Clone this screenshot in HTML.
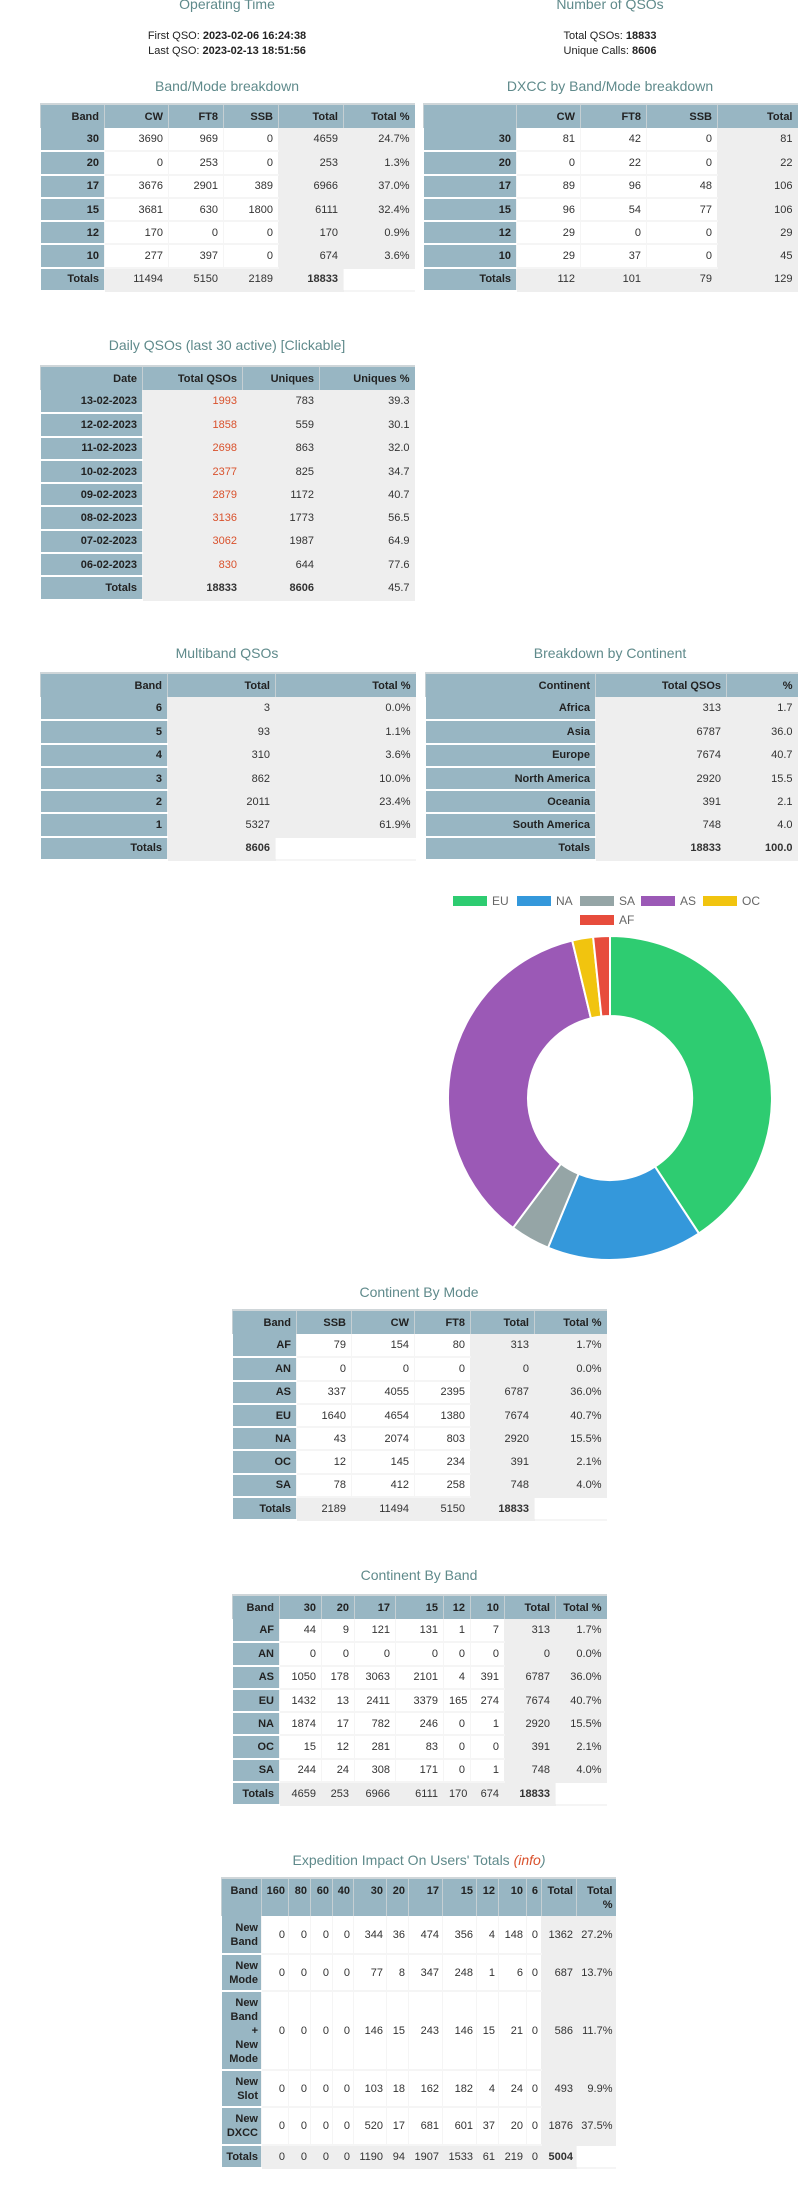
<!DOCTYPE html>
<html><head><meta charset="utf-8">
<style>
html,body{margin:0;padding:0;background:#fff;}
body{width:810px;height:2202px;position:relative;overflow:hidden;font-family:"Liberation Sans",Arial,sans-serif;}
.t{position:absolute;color:#5f8a8b;font-size:14px;text-align:center;white-space:nowrap;transform:translateX(-50%);line-height:16px;}
.i{position:absolute;font-size:11px;color:#222;text-align:center;transform:translateX(-50%);line-height:15px;white-space:nowrap;}
table{position:absolute;border-collapse:collapse;table-layout:fixed;font-size:11px;color:#333;}
td,th{padding:0 5px;text-align:right;overflow:hidden;white-space:nowrap;box-sizing:border-box;}
th{background:#98b6c3;color:#222;font-weight:bold;border-left:1px solid #c5cfd3;border-top:2px solid #cfd6d9;}
td{border-bottom:2px solid #f5f5f5;border-left:1px solid #f5f5f5;}
td.b{background:#98b6c3;color:#222;font-weight:bold;border-bottom:2px solid #fff;border-left:none;}
td.g{background:#eeeeee;border-color:#eeeeee;}
td.w{background:#fff;}
td.r{color:#d9512c;}
tr.h{height:24px;}
tr.d{height:23.3px;}
.ex td{white-space:nowrap;line-height:14px;padding:0 3px;}
.ex th{vertical-align:top;padding:5px 3px 0;white-space:normal;line-height:14px;}
</style></head><body>

<div class="t" style="left:227px;top:-4px;">Operating Time</div>
<div class="i" style="left:227px;top:29px;">First QSO: <b>2023-02-06 16:24:38</b><br>Last QSO: <b>2023-02-13 18:51:56</b></div>
<div class="t" style="left:610px;top:-4px;">Number of QSOs</div>
<div class="i" style="left:610px;top:29px;">Total QSOs: <b>18833</b><br>Unique Calls: <b>8606</b></div>

<div class="t" style="left:227px;top:78px;">Band/Mode breakdown</div>
<table style="left:40px;top:103px;width:374px;">
<colgroup><col style="width:64px"><col style="width:64px"><col style="width:55px"><col style="width:55px"><col style="width:65px"><col style="width:71px"></colgroup>
<tr class="h"><th>Band</th><th>CW</th><th>FT8</th><th>SSB</th><th>Total</th><th>Total %</th></tr>
<tr class="d"><td class="b">30</td><td>3690</td><td>969</td><td>0</td><td class="g">4659</td><td class="g">24.7%</td></tr>
<tr class="d"><td class="b">20</td><td>0</td><td>253</td><td>0</td><td class="g">253</td><td class="g">1.3%</td></tr>
<tr class="d"><td class="b">17</td><td>3676</td><td>2901</td><td>389</td><td class="g">6966</td><td class="g">37.0%</td></tr>
<tr class="d"><td class="b">15</td><td>3681</td><td>630</td><td>1800</td><td class="g">6111</td><td class="g">32.4%</td></tr>
<tr class="d"><td class="b">12</td><td>170</td><td>0</td><td>0</td><td class="g">170</td><td class="g">0.9%</td></tr>
<tr class="d"><td class="b">10</td><td>277</td><td>397</td><td>0</td><td class="g">674</td><td class="g">3.6%</td></tr>
<tr class="d"><td class="b">Totals</td><td class="g">11494</td><td class="g">5150</td><td class="g">2189</td><td class="g"><b>18833</b></td><td class="w"></td></tr>
</table>

<div class="t" style="left:610px;top:78px;">DXCC by Band/Mode breakdown</div>
<table style="left:423px;top:103px;width:374px;">
<colgroup><col style="width:93px"><col style="width:64px"><col style="width:66px"><col style="width:71px"><col style="width:80px"></colgroup>
<tr class="h"><th></th><th>CW</th><th>FT8</th><th>SSB</th><th>Total</th></tr>
<tr class="d"><td class="b">30</td><td>81</td><td>42</td><td>0</td><td class="g">81</td></tr>
<tr class="d"><td class="b">20</td><td>0</td><td>22</td><td>0</td><td class="g">22</td></tr>
<tr class="d"><td class="b">17</td><td>89</td><td>96</td><td>48</td><td class="g">106</td></tr>
<tr class="d"><td class="b">15</td><td>96</td><td>54</td><td>77</td><td class="g">106</td></tr>
<tr class="d"><td class="b">12</td><td>29</td><td>0</td><td>0</td><td class="g">29</td></tr>
<tr class="d"><td class="b">10</td><td>29</td><td>37</td><td>0</td><td class="g">45</td></tr>
<tr class="d"><td class="b">Totals</td><td class="g">112</td><td class="g">101</td><td class="g">79</td><td class="g">129</td></tr>
</table>

<div class="t" style="left:227px;top:337px;">Daily QSOs (last 30 active) [Clickable]</div>
<table style="left:40px;top:365px;width:374px;">
<colgroup><col style="width:102px"><col style="width:100px"><col style="width:77px"><col style="width:95px"></colgroup>
<tr class="h"><th>Date</th><th>Total QSOs</th><th>Uniques</th><th>Uniques %</th></tr>
<tr class="d"><td class="b">13-02-2023</td><td class="g r">1993</td><td class="g">783</td><td class="g">39.3</td></tr>
<tr class="d"><td class="b">12-02-2023</td><td class="g r">1858</td><td class="g">559</td><td class="g">30.1</td></tr>
<tr class="d"><td class="b">11-02-2023</td><td class="g r">2698</td><td class="g">863</td><td class="g">32.0</td></tr>
<tr class="d"><td class="b">10-02-2023</td><td class="g r">2377</td><td class="g">825</td><td class="g">34.7</td></tr>
<tr class="d"><td class="b">09-02-2023</td><td class="g r">2879</td><td class="g">1172</td><td class="g">40.7</td></tr>
<tr class="d"><td class="b">08-02-2023</td><td class="g r">3136</td><td class="g">1773</td><td class="g">56.5</td></tr>
<tr class="d"><td class="b">07-02-2023</td><td class="g r">3062</td><td class="g">1987</td><td class="g">64.9</td></tr>
<tr class="d"><td class="b">06-02-2023</td><td class="g r">830</td><td class="g">644</td><td class="g">77.6</td></tr>
<tr class="d"><td class="b">Totals</td><td class="g"><b>18833</b></td><td class="g"><b>8606</b></td><td class="g">45.7</td></tr>
</table>

<div class="t" style="left:227px;top:645px;">Multiband QSOs</div>
<table style="left:40px;top:672px;width:375px;">
<colgroup><col style="width:127px"><col style="width:108px"><col style="width:140px"></colgroup>
<tr class="h"><th>Band</th><th>Total</th><th>Total %</th></tr>
<tr class="d"><td class="b">6</td><td class="g">3</td><td class="g">0.0%</td></tr>
<tr class="d"><td class="b">5</td><td class="g">93</td><td class="g">1.1%</td></tr>
<tr class="d"><td class="b">4</td><td class="g">310</td><td class="g">3.6%</td></tr>
<tr class="d"><td class="b">3</td><td class="g">862</td><td class="g">10.0%</td></tr>
<tr class="d"><td class="b">2</td><td class="g">2011</td><td class="g">23.4%</td></tr>
<tr class="d"><td class="b">1</td><td class="g">5327</td><td class="g">61.9%</td></tr>
<tr class="d"><td class="b">Totals</td><td class="g"><b>8606</b></td><td class="w"></td></tr>
</table>

<div class="t" style="left:610px;top:645px;">Breakdown by Continent</div>
<table style="left:425px;top:672px;width:372px;">
<colgroup><col style="width:170px"><col style="width:131px"><col style="width:71px"></colgroup>
<tr class="h"><th>Continent</th><th>Total QSOs</th><th>%</th></tr>
<tr class="d"><td class="b">Africa</td><td class="g">313</td><td class="g">1.7</td></tr>
<tr class="d"><td class="b">Asia</td><td class="g">6787</td><td class="g">36.0</td></tr>
<tr class="d"><td class="b">Europe</td><td class="g">7674</td><td class="g">40.7</td></tr>
<tr class="d"><td class="b">North America</td><td class="g">2920</td><td class="g">15.5</td></tr>
<tr class="d"><td class="b">Oceania</td><td class="g">391</td><td class="g">2.1</td></tr>
<tr class="d"><td class="b">South America</td><td class="g">748</td><td class="g">4.0</td></tr>
<tr class="d"><td class="b">Totals</td><td class="g"><b>18833</b></td><td class="g"><b>100.0</b></td></tr>
</table>

<svg style="position:absolute;left:420px;top:880px;" width="390" height="390" viewBox="420 880 390 390" font-family="Liberation Sans, sans-serif" font-size="12" fill="#666">
<rect x="453" y="896" width="34" height="10" fill="#2ecc71"/><text x="492" y="905">EU</text>
<rect x="517" y="896" width="34" height="10" fill="#3498db"/><text x="556" y="905">NA</text>
<rect x="580" y="896" width="34" height="10" fill="#95a5a6"/><text x="619" y="905">SA</text>
<rect x="641" y="896" width="34" height="10" fill="#9b59b6"/><text x="680" y="905">AS</text>
<rect x="703" y="896" width="34" height="10" fill="#f1c40f"/><text x="742" y="905">OC</text>
<rect x="580" y="915" width="34" height="10" fill="#e74c3c"/><text x="619" y="924">AF</text>
<g stroke="#fff" stroke-width="2">
<path d="M610,936 A162,162 0 0 1 698.9,1233.4 L655,1166.6 A82,82 0 0 0 610,1016 Z" fill="#2ecc71"/>
<path d="M698.9,1233.4 A162,162 0 0 1 548,1247.7 L578.6,1173.8 A82,82 0 0 0 655,1166.6 Z" fill="#3498db"/>
<path d="M548,1247.7 A162,162 0 0 1 513,1227.8 L560.9,1163.7 A82,82 0 0 0 578.6,1173.8 Z" fill="#95a5a6"/>
<path d="M513,1227.8 A162,162 0 0 1 572.2,940.5 L590.9,1018.3 A82,82 0 0 0 560.9,1163.7 Z" fill="#9b59b6"/>
<path d="M572.2,940.5 A162,162 0 0 1 593.1,936.9 L601.4,1016.5 A82,82 0 0 0 590.9,1018.3 Z" fill="#f1c40f"/>
<path d="M593.1,936.9 A162,162 0 0 1 610,936 L610,1016 A82,82 0 0 0 601.4,1016.5 Z" fill="#e74c3c"/>
</g>
</svg>

<div class="t" style="left:419px;top:1284px;">Continent By Mode</div>
<table style="left:232px;top:1309px;width:374px;">
<colgroup><col style="width:64px"><col style="width:55px"><col style="width:63px"><col style="width:56px"><col style="width:64px"><col style="width:72px"></colgroup>
<tr class="h"><th>Band</th><th>SSB</th><th>CW</th><th>FT8</th><th>Total</th><th>Total %</th></tr>
<tr class="d"><td class="b">AF</td><td>79</td><td>154</td><td>80</td><td class="g">313</td><td class="g">1.7%</td></tr>
<tr class="d"><td class="b">AN</td><td>0</td><td>0</td><td>0</td><td class="g">0</td><td class="g">0.0%</td></tr>
<tr class="d"><td class="b">AS</td><td>337</td><td>4055</td><td>2395</td><td class="g">6787</td><td class="g">36.0%</td></tr>
<tr class="d"><td class="b">EU</td><td>1640</td><td>4654</td><td>1380</td><td class="g">7674</td><td class="g">40.7%</td></tr>
<tr class="d"><td class="b">NA</td><td>43</td><td>2074</td><td>803</td><td class="g">2920</td><td class="g">15.5%</td></tr>
<tr class="d"><td class="b">OC</td><td>12</td><td>145</td><td>234</td><td class="g">391</td><td class="g">2.1%</td></tr>
<tr class="d"><td class="b">SA</td><td>78</td><td>412</td><td>258</td><td class="g">748</td><td class="g">4.0%</td></tr>
<tr class="d"><td class="b">Totals</td><td class="g">2189</td><td class="g">11494</td><td class="g">5150</td><td class="g"><b>18833</b></td><td class="w"></td></tr>
</table>

<div class="t" style="left:419px;top:1567px;">Continent By Band</div>
<table style="left:232px;top:1594px;width:374px;">
<colgroup><col style="width:47px"><col style="width:42px"><col style="width:33px"><col style="width:41px"><col style="width:48px"><col style="width:27px"><col style="width:34px"><col style="width:51px"><col style="width:51px"></colgroup>
<tr class="h"><th>Band</th><th>30</th><th>20</th><th>17</th><th>15</th><th>12</th><th>10</th><th>Total</th><th>Total %</th></tr>
<tr class="d"><td class="b">AF</td><td>44</td><td>9</td><td>121</td><td>131</td><td>1</td><td>7</td><td class="g">313</td><td class="g">1.7%</td></tr>
<tr class="d"><td class="b">AN</td><td>0</td><td>0</td><td>0</td><td>0</td><td>0</td><td>0</td><td class="g">0</td><td class="g">0.0%</td></tr>
<tr class="d"><td class="b">AS</td><td>1050</td><td>178</td><td>3063</td><td>2101</td><td>4</td><td>391</td><td class="g">6787</td><td class="g">36.0%</td></tr>
<tr class="d"><td class="b">EU</td><td>1432</td><td>13</td><td>2411</td><td>3379</td><td>165</td><td>274</td><td class="g">7674</td><td class="g">40.7%</td></tr>
<tr class="d"><td class="b">NA</td><td>1874</td><td>17</td><td>782</td><td>246</td><td>0</td><td>1</td><td class="g">2920</td><td class="g">15.5%</td></tr>
<tr class="d"><td class="b">OC</td><td>15</td><td>12</td><td>281</td><td>83</td><td>0</td><td>0</td><td class="g">391</td><td class="g">2.1%</td></tr>
<tr class="d"><td class="b">SA</td><td>244</td><td>24</td><td>308</td><td>171</td><td>0</td><td>1</td><td class="g">748</td><td class="g">4.0%</td></tr>
<tr class="d"><td class="b">Totals</td><td class="g">4659</td><td class="g">253</td><td class="g">6966</td><td class="g">6111</td><td class="g">170</td><td class="g">674</td><td class="g"><b>18833</b></td><td class="w"></td></tr>
</table>

<div class="t" style="left:419px;top:1852px;">Expedition Impact On Users' Totals <i style="color:#d9512c">(info</i><i>)</i></div>
<table class="ex" style="left:221px;top:1877px;width:394px;">
<colgroup><col style="width:40px"><col style="width:27px"><col style="width:22px"><col style="width:22px"><col style="width:21px"><col style="width:33px"><col style="width:22px"><col style="width:34px"><col style="width:34px"><col style="width:22px"><col style="width:28px"><col style="width:15px"><col style="width:35px"><col style="width:39px"></colgroup>
<tr style="height:38px"><th>Band</th><th>160</th><th>80</th><th>60</th><th>40</th><th>30</th><th>20</th><th>17</th><th>15</th><th>12</th><th>10</th><th>6</th><th>Total</th><th>Total %</th></tr>
<tr style="height:38px"><td class="b">New<br>Band</td><td>0</td><td>0</td><td>0</td><td>0</td><td>344</td><td>36</td><td>474</td><td>356</td><td>4</td><td>148</td><td>0</td><td class="g">1362</td><td class="g">27.2%</td></tr>
<tr style="height:37px"><td class="b">New<br>Mode</td><td>0</td><td>0</td><td>0</td><td>0</td><td>77</td><td>8</td><td>347</td><td>248</td><td>1</td><td>6</td><td>0</td><td class="g">687</td><td class="g">13.7%</td></tr>
<tr style="height:79px"><td class="b">New<br>Band<br>+<br>New<br>Mode</td><td>0</td><td>0</td><td>0</td><td>0</td><td>146</td><td>15</td><td>243</td><td>146</td><td>15</td><td>21</td><td>0</td><td class="g">586</td><td class="g">11.7%</td></tr>
<tr style="height:37px"><td class="b">New<br>Slot</td><td>0</td><td>0</td><td>0</td><td>0</td><td>103</td><td>18</td><td>162</td><td>182</td><td>4</td><td>24</td><td>0</td><td class="g">493</td><td class="g">9.9%</td></tr>
<tr style="height:38px"><td class="b">New<br>DXCC</td><td>0</td><td>0</td><td>0</td><td>0</td><td>520</td><td>17</td><td>681</td><td>601</td><td>37</td><td>20</td><td>0</td><td class="g">1876</td><td class="g">37.5%</td></tr>
<tr style="height:23px"><td class="b">Totals</td><td class="g">0</td><td class="g">0</td><td class="g">0</td><td class="g">0</td><td class="g">1190</td><td class="g">94</td><td class="g">1907</td><td class="g">1533</td><td class="g">61</td><td class="g">219</td><td class="g">0</td><td class="g"><b>5004</b></td><td class="w"></td></tr>
</table>

</body></html>
